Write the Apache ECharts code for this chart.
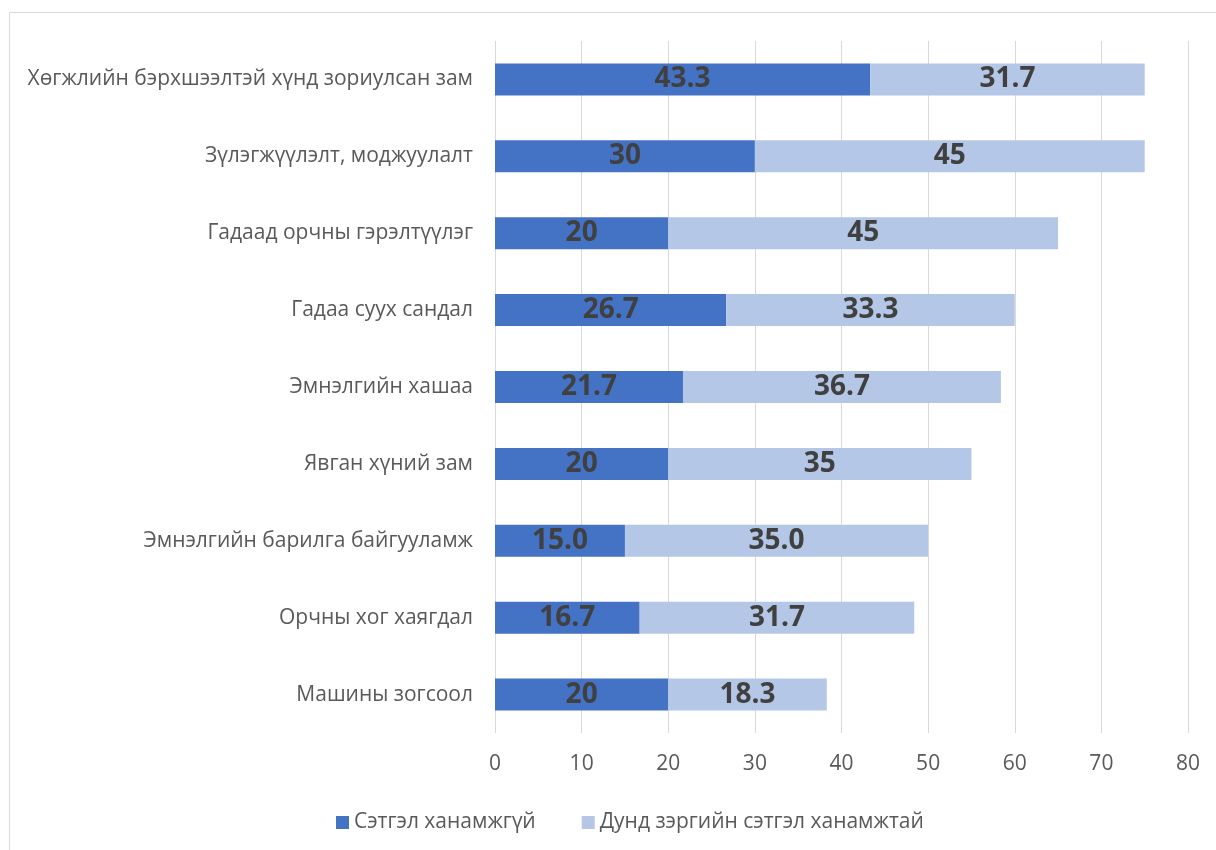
<!DOCTYPE html>
<html>
<head>
<meta charset="utf-8">
<script src="https://cdn.jsdelivr.net/npm/echarts@6/dist/echarts.min.js"></script>
<style>html,body{margin:0;padding:0;background:#fff;}#c{width:1216px;height:850px;}</style>
</head>
<body>
<div id="c"></div>
<script>
const categories = [
  "Хөгжлийн бэрхшээлтэй хүнд зориулсан зам",
  "Зүлэгжүүлэлт, моджуулалт",
  "Гадаад орчны гэрэлтүүлэг",
  "Гадаа суух сандал",
  "Эмнэлгийн хашаа",
  "Явган хүний зам",
  "Эмнэлгийн барилга байгууламж",
  "Орчны хог хаягдал",
  "Машины зогсоол"
];
const seriesNames = ["Сэтгэл ханамжгүй", "Дунд зэргийн сэтгэл ханамжтай"];
const unsatisfied = [43.3, 30, 20, 26.7, 21.7, 20, 15.0, 16.7, 20];
const unsatisfiedLabels = ["43.3", "30", "20", "26.7", "21.7", "20", "15.0", "16.7", "20"];
const moderate = [31.7, 45, 45, 33.3, 36.7, 35, 35.0, 31.7, 18.3];
const moderateLabels = ["31.7", "45", "45", "33.3", "36.7", "35", "35.0", "31.7", "18.3"];
const xTicks = [0, 10, 20, 30, 40, 50, 60, 70, 80];

const chart = echarts.init(document.getElementById('c'));
const font = '"Open Sans", "Liberation Sans", sans-serif';
const labelStyle = (arr) => ({
  show: true,
  position: 'inside',
  fontFamily: '"Open Sans", "Liberation Sans", sans-serif',
  fontWeight: 'bold',
  fontSize: 28,
  color: '#404040',
  formatter: p => arr[p.dataIndex]
});
chart.setOption({
  animation: false,
  graphic: [{
    type: 'rect',
    shape: {x: 9.5, y: 12.5, width: 1240, height: 900},
    style: {fill: 'none', stroke: '#D9D9D9', lineWidth: 1}
  }],
  legend: {
    left: 331, top: 807,
    itemWidth: 13, itemHeight: 13, itemGap: 46,
    icon: 'rect',
    textStyle: {fontFamily: font, fontSize: 21, color: '#595959', padding: [0, 0, 0, 0]},
    data: seriesNames
  },
  grid: {left: 495, right: 28, top: 41, bottom: 117, containLabel: false},
  xAxis: {
    type: 'value', min: xTicks[0], max: xTicks[xTicks.length - 1], interval: 10,
    axisLine: {show: false}, axisTick: {show: false},
    splitLine: {lineStyle: {color: '#D9D9D9', width: 1}},
    axisLabel: {fontFamily: font, fontSize: 21, color: '#595959', margin: 21}
  },
  yAxis: {
    type: 'category', data: categories, inverse: true,
    axisLine: {show: false}, axisTick: {show: false},
    axisLabel: {fontFamily: font, fontSize: 21, color: '#595959', margin: 22}
  },
  series: [
    {name: seriesNames[0], type: 'bar', stack: 's', data: unsatisfied, barWidth: 32,
     itemStyle: {color: '#4472C4'}, label: labelStyle(unsatisfiedLabels)},
    {name: seriesNames[1], type: 'bar', stack: 's', data: moderate, barWidth: 32,
     itemStyle: {color: '#B4C7E7'}, label: labelStyle(moderateLabels)}
  ]
});
</script>
</body>
</html>
